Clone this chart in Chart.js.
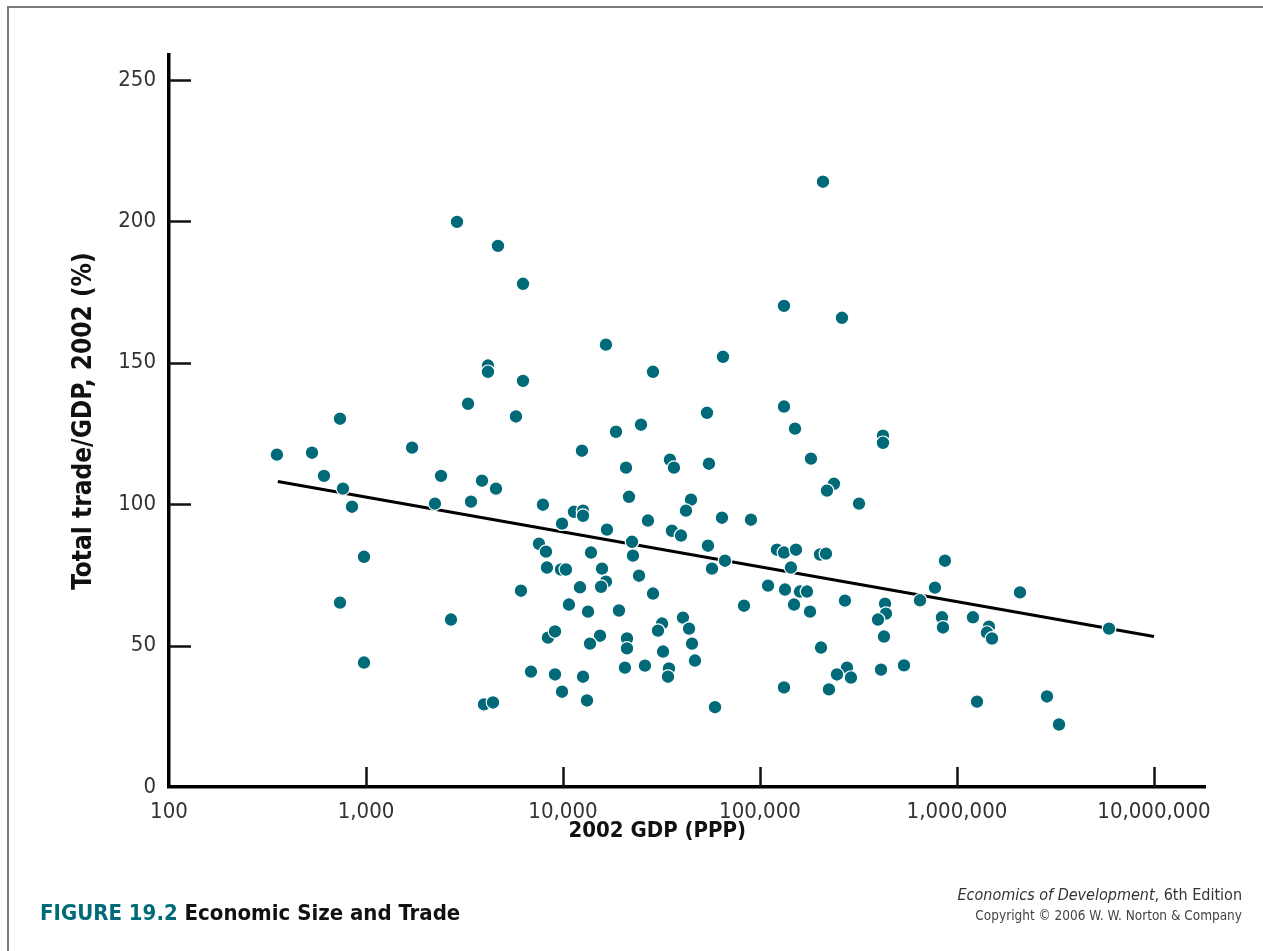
<!DOCTYPE html>
<html>
<head>
<meta charset="utf-8">
<script src="https://cdn.jsdelivr.net/npm/chart.js@4/dist/chart.umd.min.js"></script>
<style>
  html, body { margin: 0; padding: 0; background: #fff; }
  #wrap { position: relative; width: 1263px; height: 951px; }
  #frame { position: absolute; left: 7px; top: 6px; right: 0; bottom: 0; border-left: 2px solid #7a7a7a; border-top: 2px solid #7a7a7a; pointer-events: none; }
  canvas { position: absolute; left: 0; top: 0; }
</style>
</head>
<body>
<div id="wrap">
  <canvas id="chart" width="1263" height="951"></canvas>
  <div id="frame"></div>
</div>
<script>
// 2002 GDP (PPP), millions, log scale
const gdp = [
  353, 532, 612, 738, 764, 849, 977, 738, 977, 1714,
  2404, 2239, 2700, 2897, 3296, 3412, 3880, 4160, 4160, 4570,
  4677, 3972, 4413, 6266, 6266, 5770, 6120,
  16520, 28640, 64900, 132400, 208900, 260800, 18580, 24890, 53830, 132400,
  150600, 421000, 421000, 12480, 20890, 34910, 36580, 55080, 181500, 7910,
  21630, 44660, 11370, 12640, 12640, 42100, 9890, 27000, 64140, 90000,
  16720, 35730, 39720, 22400, 54450, 66420, 57050, 121900, 132400, 152300,
  7550, 8200, 13870, 22660, 8290, 9770, 10350, 15780, 16520, 15600,
  24320, 143600, 201800, 216300, 12200, 28640, 109900, 134000, 159600, 173300,
  148900, 179500, 82960, 10720, 13400, 19240, 8390, 9110, 15420, 13710,
  21130, 21130, 31840, 30350, 40650, 43650, 45180, 32210, 46770, 204100,
  6880, 9110, 12640, 20630, 26070, 34520, 34120, 9890, 13240, 59100, 132400,
  237500, 218800, 318300, 270000, 431300, 436000, 397200, 426000, 869000, 773000,
  649000, 2089000, 839000, 849000, 1205000, 1453000, 1419000, 1506000, 5915000, 276500,
  246000, 289700, 411500, 538300, 223900, 1264000, 2864000, 3296000
];
// total trade / GDP, 2002 (%)
const trade = [
  117.5, 118.2, 110, 130.2, 105.5, 99.1, 81.4, 65.2, 44, 120,
  110, 100.2, 59.2, 199.8, 135.5, 100.9, 108.3, 149, 146.8, 105.5,
  191.3, 29.2, 29.9, 177.9, 143.6, 131, 69.4,
  156.4, 146.8, 152.1, 170.1, 214, 165.9, 125.6, 128.1, 132.3, 134.5,
  126.7, 124.2, 121.7, 118.9, 112.9, 115.7, 112.9, 114.3, 116.1, 99.8,
  102.6, 101.6, 97.3, 97.7, 95.9, 97.7, 93.1, 94.2, 95.2, 94.5,
  91, 90.6, 88.9, 86.7, 85.3, 80, 77.2, 83.9, 82.9, 83.9,
  86, 83.2, 82.9, 81.8, 77.6, 76.9, 76.9, 77.2, 72.6, 70.8,
  74.7, 77.6, 82.2, 82.5, 70.6, 68.4, 71.2, 69.8, 69.1, 69.1,
  64.5, 62, 64.1, 64.5, 62, 62.4, 52.8, 55, 53.5, 50.7,
  52.5, 49, 57.8, 55.3, 59.9, 56, 50.7, 47.9, 44.7, 49.3,
  40.8, 39.8, 39, 42.2, 42.9, 41.9, 39, 33.7, 30.6, 28.2, 35.2,
  107.2, 104.8, 100.2, 65.9, 64.8, 61.3, 59.2, 53.2, 80, 70.5,
  66, 68.8, 60, 56.4, 60, 56.7, 54.6, 52.5, 56, 42.2,
  39.8, 38.7, 41.5, 43, 34.5, 30.2, 32, 22.1
];
// fitted line end points
const trendGdp = [357, 10000000];
const trendTrade = [108, 53.2];

const xTicks = [100, 1000, 10000, 100000, 1000000, 10000000];
const yTicks = [0, 50, 100, 150, 200, 250];

const teal = '#006a79';
const narrow = "'DejaVu Sans Condensed', 'Roboto', sans-serif";

const innerTicks = {
  id: 'innerTicks',
  afterDraw(chart) {
    const ctx = chart.ctx;
    const xs = chart.scales.x, ys = chart.scales.y;
    const area = chart.chartArea;
    ctx.save();
    ctx.strokeStyle = '#111';
    ctx.lineWidth = 2.5;
    ctx.beginPath();
    yTicks.slice(1).forEach(v => {
      const y = Math.round(ys.getPixelForValue(v)) + 0.5;
      ctx.moveTo(area.left, y);
      ctx.lineTo(area.left + 22, y);
    });
    xTicks.slice(1).forEach(v => {
      const x = Math.round(xs.getPixelForValue(v)) + 0.5;
      ctx.moveTo(x, area.bottom);
      ctx.lineTo(x, area.bottom - 20);
    });
    ctx.stroke();

    // figure caption
    ctx.textBaseline = 'alphabetic';
    ctx.textAlign = 'left';
    ctx.font = "bold 22px " + narrow;
    ctx.fillStyle = teal;
    const lead = 'FIGURE 19.2 ';
    ctx.fillText(lead, 40, 920);
    const w = ctx.measureText(lead).width;
    ctx.fillStyle = '#111';
    ctx.fillText('Economic Size and Trade', 40 + w, 920);

    // source
    ctx.textAlign = 'right';
    ctx.fillStyle = '#333';
    ctx.font = "16px " + narrow;
    const ed = ', 6th Edition';
    ctx.fillText(ed, 1242, 900);
    const ew = ctx.measureText(ed).width;
    ctx.font = "italic 16px " + narrow;
    ctx.fillText('Economics of Development', 1242 - ew, 900);
    ctx.font = "13.5px " + narrow;
    ctx.fillStyle = '#444';
    ctx.fillText('Copyright \u00A9 2006 W. W. Norton & Company', 1242, 920);
    ctx.restore();
  }
};

new Chart(document.getElementById('chart'), {
  type: 'scatter',
  data: {
    datasets: [{
      data: gdp.map((g, i) => ({ x: g, y: trade[i] })),
      backgroundColor: teal,
      borderColor: '#ffffff',
      borderWidth: 1.2,
      pointRadius: 6.8,
      pointHoverRadius: 6.8
    }, {
      type: 'line',
      data: trendGdp.map((g, i) => ({ x: g, y: trendTrade[i] })),
      borderColor: '#000',
      borderWidth: 3,
      pointRadius: 0,
      fill: false
    }]
  },
  options: {
    responsive: false,
    animation: false,
    devicePixelRatio: 1,
    layout: { padding: { left: 0, top: 55, right: 58, bottom: 0 } },
    plugins: { legend: { display: false }, tooltip: { enabled: false } },
    scales: {
      x: {
        type: 'logarithmic',
        min: 100,
        max: 18160000,
        afterBuildTicks: s => { s.ticks = xTicks.map(v => ({ value: v })); },
        afterFit: s => { s.height = 164; },
        grid: { display: false, drawTicks: false },
        border: { display: true, color: '#000', width: 3.5 },
        ticks: {
          padding: 12,
          color: '#333',
          font: { family: narrow, size: 22 },
          maxRotation: 0,
          autoSkip: false,
          callback: v => Number(v).toLocaleString('en-US')
        },
        title: {
          display: true,
          text: '2002 GDP (PPP)\u2003\u2003\u2003',
          color: '#111',
          font: { family: narrow, size: 22, weight: 'bold' },
          padding: { top: 0, bottom: 107 }
        }
      },
      y: {
        min: 0,
        max: 258.8,
        afterBuildTicks: s => { s.ticks = yTicks.map(v => ({ value: v })); },
        afterFit: s => { s.width = 169; },
        grid: { display: false, drawTicks: false },
        border: { display: true, color: '#000', width: 3.5 },
        ticks: {
          padding: 13,
          color: '#333',
          font: { family: narrow, size: 22 }
        },
        title: {
          display: true,
          text: 'Total trade/GDP, 2002 (%)',
          color: '#111',
          font: { family: narrow, size: 26, weight: 'bold' },
          padding: { top: 69, bottom: 0 }
        }
      }
    }
  },
  plugins: [innerTicks]
});
</script>
</body>
</html>
